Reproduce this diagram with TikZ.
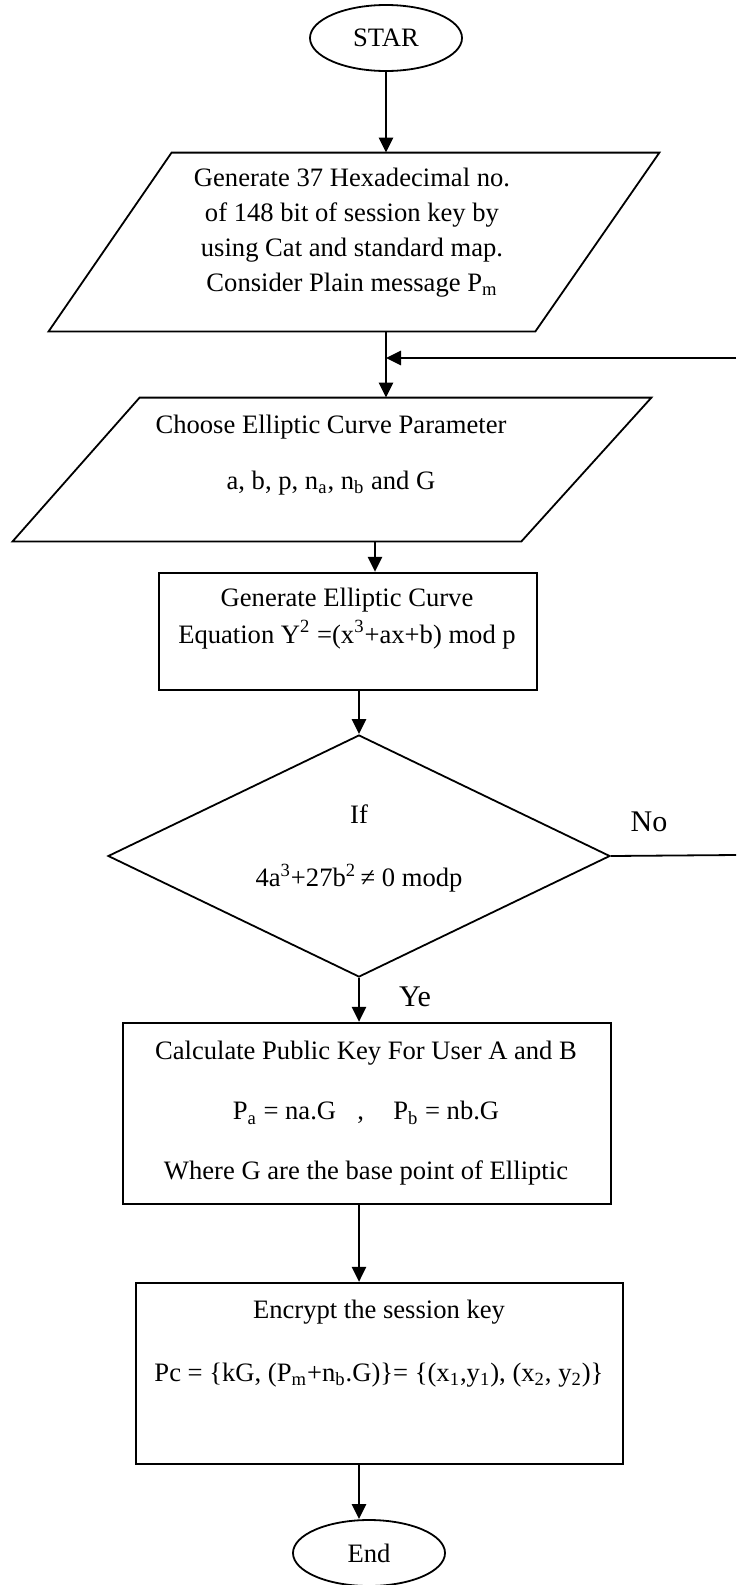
\documentclass[tikz,border=0pt]{standalone}
\usepackage{fontspec}
\setmainfont{Liberation Serif}
\usetikzlibrary{shapes.geometric,arrows.meta}

\begin{document}
\begin{tikzpicture}[x=0.5pt,y=-0.5pt,>={Triangle[length=7.5pt,width=7pt]},
	font=\fontsize{13.3}{17.5}\selectfont,
	term/.style={draw,ellipse,line width=0.9pt,minimum width=76pt,minimum height=33pt,inner sep=0pt},
	io/.style={rectangle,inner sep=0pt},
	edge/.style={line width=0.9pt},
	proc/.style={draw,rectangle,line width=1.1pt,inner sep=0pt},
	txt/.style={align=center,inner sep=0pt},
	flow/.style={->,line width=1.35pt},
	tag/.style={font=\fontsize{15}{18}\selectfont,inner sep=0pt}]
	\useasboundingbox (0,0) rectangle (736,1585);
	% shapes
	\node[term] (start) at (386,38) {STAR};
	\node[io,minimum width=305pt,minimum height=89pt] (gen) at (354,242) {};
	\draw[edge] ([xshift=61.5pt]gen.north west) -- (gen.north east)
		-- ([xshift=-62pt]gen.south east) -- (gen.south west) -- cycle;
	\node[io,minimum width=319pt,minimum height=71.5pt] (choose) at (332,469.5) {};
	\draw[edge] ([xshift=63.5pt]choose.north west) -- (choose.north east)
		-- ([xshift=-65pt]choose.south east) -- (choose.south west) -- cycle;
	\node[proc,minimum width=189pt,minimum height=58.5pt] (eqn) at (348,631.5) {};
	\node[draw,diamond,edge,minimum width=251pt,minimum height=121pt,inner sep=0pt] (check) at (359,856) {};
	\node[proc,minimum width=244pt,minimum height=90.5pt] (pub) at (367,1113.5) {};
	\node[proc,minimum width=243.5pt,minimum height=90.5pt] (enc) at (379.5,1373.5) {};
	\node[term] (stop) at (369,1553) {End};
	% texts
	\node[txt] (gen-t) at (352,232.5) {Generate 37 Hexadecimal no.\\of 148 bit of session key by\\using Cat and standard map.\\Consider Plain message P\textsubscript{m}};
	\node[txt] (choose-t) at (331,455) {Choose Elliptic Curve Parameter\\[10.5pt]a, b, p, n\textsubscript{a}, n\textsubscript{b} and G};
	\node[txt] (eqn-t) at (347,618.5) {Generate Elliptic Curve\\[1pt]Equation Y\textsuperscript{2} =(x\textsuperscript{3}+ax+b) mod p};
	\node[txt] (check-t) at (359,848.5) {If\\[14pt]4a\textsuperscript{3}+27b\textsuperscript{2}\,≠ 0 modp};
	\node[txt] (pub-t) at (366,1113.5) {Calculate Public Key For User A and B\\[12.5pt]P\textsubscript{a} = na.G\hspace{0.8em},\hspace{1.1em}P\textsubscript{b} = nb.G\\[12.5pt]Where G are the base point of Elliptic};
	\node[txt] (enc-t) at (379,1343.5) {Encrypt the session key\\[14pt]Pc = \{kG, (P\textsubscript{m}+n\textsubscript{b}.G)\}= \{(x\textsubscript{1},y\textsubscript{1}), (x\textsubscript{2}, y\textsubscript{2})\}};
	\node[tag] (no) at (649,822) {No};
	\node[tag] (yes) at (415,997) {Ye};
	% connectors
	\coordinate (back) at (736,358);
	\coordinate (exit) at (736,855);
	\coordinate (eqn-in) at ([xshift=13.5pt]eqn.north);
	\draw[flow] (start) -- (start |- gen.north);
	\draw[flow] (start |- gen.south) -- (start |- choose.north);
	\draw[flow] (back) -- (back -| start);
	\draw[flow] (eqn-in |- choose.south) -- (eqn-in);
	\draw[flow] (check.north |- eqn.south) -- (check.north);
	\draw[flow] (check.south) -- (check.south |- pub.north);
	\foreach \u/\v in {pub/enc,enc/stop}{
		\draw[flow] (check.south |- \u.south) -- (check.south |- \v.north);
	}
	\draw[edge] (check.east) -- (exit);
\end{tikzpicture}
\end{document}
